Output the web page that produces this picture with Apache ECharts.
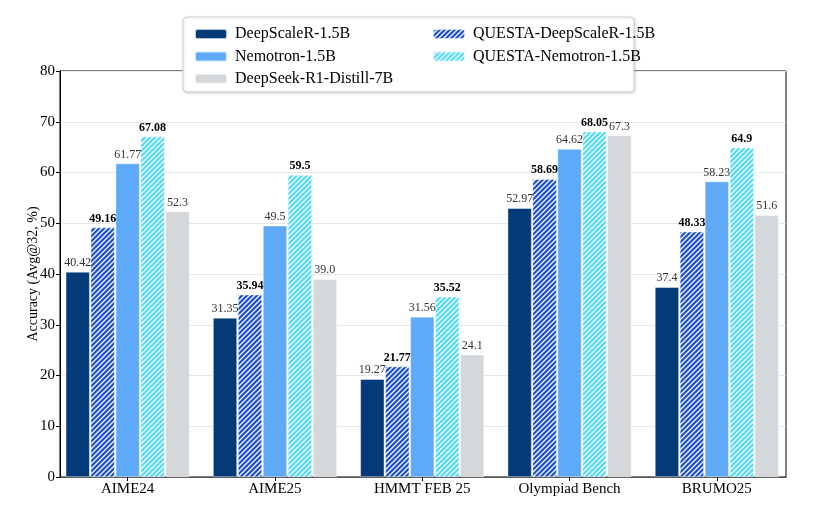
<!DOCTYPE html>
<html>
<head>
<meta charset="utf-8">
<script src="https://cdn.jsdelivr.net/npm/echarts@6/dist/echarts.min.js"></script>
<style>html,body{margin:0;padding:0;background:#fff;}#c{width:820px;height:509px;}</style>
</head>
<body>
<div id="c"></div>
<script>
const categories = ['AIME24', 'AIME25', 'HMMT FEB 25', 'Olympiad Bench', 'BRUMO25'];
const deepScaleR = [40.42, 31.35, 19.27, 52.97, 37.4];
const questaDeepScaleR = [49.16, 35.94, 21.77, 58.69, 48.33];
const nemotron = [61.77, 49.5, 31.56, 64.62, 58.23];
const questaNemotron = [67.08, 59.5, 35.52, 68.05, 64.9];
const deepSeek = [52.3, 39.0, 24.1, 67.3, 51.6];
const yTicks = [0, 10, 20, 30, 40, 50, 60, 70, 80];

function hatch(base) {
  const s = 5;
  const cv = document.createElement('canvas');
  cv.width = s; cv.height = s;
  const g = cv.getContext('2d');
  g.fillStyle = base; g.fillRect(0, 0, s, s);
  g.strokeStyle = 'rgba(255,255,255,0.95)';
  g.lineWidth = 1.3;
  g.beginPath();
  g.moveTo(0, s); g.lineTo(s, 0);
  g.moveTo(-1, 1); g.lineTo(1, -1);
  g.moveTo(s - 1, s + 1); g.lineTo(s + 1, s - 1);
  g.stroke();
  return { image: cv, repeat: 'repeat' };
}

const FONT = '"Liberation Serif", "Times New Roman", serif';
const chart = echarts.init(document.getElementById('c'));

function mk(name, data, color, bold, fmt) {
  return {
    name: name, type: 'bar', data: data, xAxisIndex: 1, yAxisIndex: 1,
    barWidth: 24, barGap: '4%',
    itemStyle: { color: color, borderColor: 'rgba(255,255,255,0.7)', borderWidth: 0.6 },
    label: {
      show: true, position: 'top', distance: 3,
      fontFamily: FONT, fontSize: 12, color: bold ? '#000' : '#333',
      fontWeight: bold ? 'bold' : 'normal',
      formatter: fmt || (p => String(p.value))
    }
  };
}

const legendText = { fontFamily: FONT, fontSize: 16, color: '#000', padding: [0, 0, 0, 3], lineHeight: 16 };

chart.setOption({
  animation: false,
  backgroundColor: '#fff',
  textStyle: { fontFamily: FONT },
  grid: [
    { left: 60, right: 34, top: 71, bottom: 32, show: true, borderColor: '#000', borderWidth: 1 },
    { left: 54, right: 29.5, top: 71, bottom: 32 }
  ],
  graphic: [{
    type: 'rect', z: 3,
    shape: { x: 183, y: 17, width: 451, height: 75, r: 4 },
    style: { fill: '#fff', stroke: '#cfcfcf', lineWidth: 1, shadowBlur: 3, shadowColor: 'rgba(0,0,0,0.15)', shadowOffsetX: 1, shadowOffsetY: 1 }
  }],
  legend: [{
    z: 5, orient: 'vertical', left: 189, top: 21,
    itemWidth: 32, itemHeight: 10, itemGap: 6.4,
    textStyle: legendText,
    data: ['DeepScaleR-1.5B', 'Nemotron-1.5B', 'DeepSeek-R1-Distill-7B'],
    selectedMode: false
  }, {
    z: 5, orient: 'vertical', left: 427, top: 21,
    itemWidth: 32, itemHeight: 10, itemGap: 6.4,
    textStyle: legendText,
    data: ['QUESTA-DeepScaleR-1.5B', 'QUESTA-Nemotron-1.5B'],
    selectedMode: false
  }],
  xAxis: [{
    type: 'value', gridIndex: 0, min: 0, max: 1,
    axisLine: { show: true, onZero: false, lineStyle: { color: '#555', width: 1.2 } },
    axisTick: { show: false }, axisLabel: { show: false }, splitLine: { show: false }
  }, {
    type: 'category', gridIndex: 1, data: categories,
    axisLine: { show: false },
    axisTick: { show: true, alignWithLabel: true, length: 4, lineStyle: { color: '#000' } },
    axisLabel: { fontFamily: FONT, fontSize: 15, color: '#000', margin: 5 }
  }],
  yAxis: [{
    type: 'value', gridIndex: 0, min: 0, max: 80, interval: 10,
    name: 'Accuracy (Avg@32, %)', nameLocation: 'middle', nameGap: 20, nameMoveOverlap: false,
    nameTextStyle: { fontFamily: FONT, fontSize: 14, color: '#000' },
    axisLine: { show: true, lineStyle: { color: '#000', width: 1 } },
    axisTick: { show: true, length: 4, lineStyle: { color: '#000' } },
    axisLabel: { fontFamily: FONT, fontSize: 15, color: '#000', margin: 5,
      formatter: v => yTicks.indexOf(v) >= 0 ? String(v) : '' },
    splitLine: { show: true, lineStyle: { color: '#e8e8e8', width: 1 } }
  }, {
    type: 'value', gridIndex: 1, min: 0, max: 80, interval: 10, show: false
  }],
  series: [
    mk('DeepScaleR-1.5B', deepScaleR, '#033a78', false),
    mk('QUESTA-DeepScaleR-1.5B', questaDeepScaleR, hatch('#1b4fd0'), true),
    mk('Nemotron-1.5B', nemotron, '#5eaaf8', false),
    mk('QUESTA-Nemotron-1.5B', questaNemotron, hatch('#52d9f8'), true),
    mk('DeepSeek-R1-Distill-7B', deepSeek, '#d4d8db', false, p => p.value.toFixed(1))
  ]
});
</script>
</body>
</html>
